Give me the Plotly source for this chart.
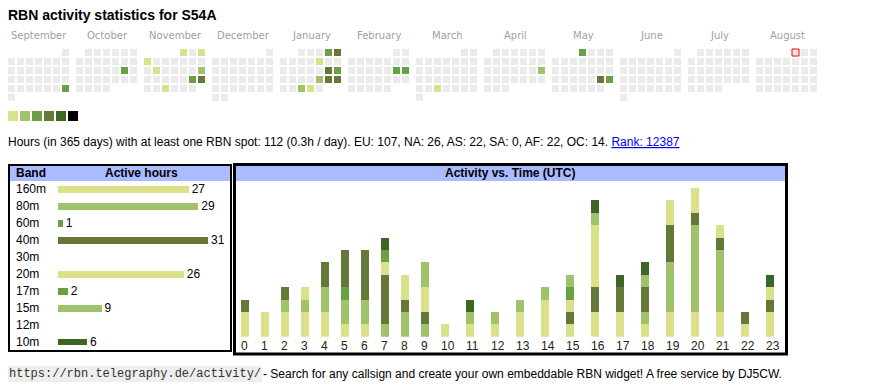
import plotly.graph_objects as go
from datetime import date, timedelta

# The page body keeps the browser's default 8px margin, so the figure is
# 8px smaller than the window and page coordinates start at 8.
PAGE_W, PAGE_H, OFF = 870, 390, 8
W, H = PAGE_W - OFF, PAGE_H - OFF
FONT = "Liberation Sans, Arial, sans-serif"

# ---------------- data ----------------
title_text = "RBN activity statistics for S54A"
month_names = ["September", "October", "November", "December", "January", "February",
               "March", "April", "May", "June", "July", "August"]
period_start = date(2024, 9, 1)
period_end = date(2025, 8, 31)
today = date(2025, 8, 1)

active_days = ["2024-09-29", "2024-10-19", "2024-11-01", "2024-11-03", "2024-11-04",
               "2024-11-12", "2024-11-17", "2024-11-23", "2024-11-24", "2024-11-27",
               "2025-01-04", "2025-01-05", "2025-01-10", "2025-01-18", "2025-01-19",
               "2025-01-24", "2025-01-25", "2025-01-26", "2025-01-29", "2025-01-30",
               "2025-02-15", "2025-02-16", "2025-03-26", "2025-04-20", "2025-05-01",
               "2025-05-24", "2025-05-25"]
active_levels = [3, 3, 1, 1, 1,
                 1, 2, 3, 4, 1,
                 3, 4, 1, 4, 3,
                 2, 4, 4, 2, 1,
                 3, 3, 1, 2, 3,
                 4, 3]

level_colors = ["#ebebeb", "#dbe18b", "#9fc26b", "#68a046", "#65783a", "#3b6626", "#000000"]

bands = ["160m", "80m", "60m", "40m", "30m", "20m", "17m", "15m", "12m", "10m"]
band_hours = [27, 29, 1, 31, 0, 26, 2, 9, 0, 6]
band_colors = ["#dbe18b", "#9fc26b", "#68a046", "#65783a", "#3b6626",
               "#dbe18b", "#68a046", "#9fc26b", "#68a046", "#3b6626"]

hour_labels = [str(h) for h in range(24)]
act_160m = [2, 2, 2, 2, 2, 1, 1, 0, 0, 0, 0, 0, 0, 0, 0, 1, 2, 2, 1, 2, 2, 2, 1, 2]
act_80m = [0, 0, 1, 1, 2, 2, 2, 1, 2, 1, 0, 0, 0, 0, 0, 0, 0, 0, 1, 4, 7, 5, 0, 0]
act_60m = [0, 0, 0, 0, 0, 1, 0, 0, 0, 0, 0, 0, 0, 0, 0, 0, 0, 0, 0, 0, 0, 0, 0, 0]
act_40m = [1, 0, 1, 0, 2, 3, 4, 4, 1, 1, 0, 0, 0, 0, 0, 1, 2, 2, 2, 3, 1, 1, 1, 1]
act_30m = [0] * 24
act_20m = [0, 0, 0, 1, 0, 0, 0, 1, 2, 2, 1, 1, 1, 2, 3, 1, 5, 0, 0, 2, 2, 1, 0, 1]
act_17m = [0, 0, 0, 0, 0, 0, 0, 1, 0, 0, 0, 0, 0, 0, 0, 1, 0, 0, 0, 0, 0, 0, 0, 0]
act_15m = [0, 0, 0, 0, 0, 0, 0, 0, 0, 2, 0, 1, 1, 1, 1, 1, 1, 0, 1, 0, 0, 0, 0, 0]
act_12m = [0] * 24
act_10m = [0, 0, 0, 0, 0, 0, 0, 1, 0, 0, 0, 1, 0, 0, 0, 0, 1, 1, 1, 0, 0, 0, 0, 1]
band_activity = [act_160m, act_80m, act_60m, act_40m, act_30m,
                 act_20m, act_17m, act_15m, act_12m, act_10m]

info_text = ("Hours (in 365 days) with at least one RBN spot: 112 (0.3h / day). "
             "EU: 107, NA: 26, AS: 22, SA: 0, AF: 22, OC: 14. ")
rank_text = "Rank: 12387"
footer_url = "https://rbn.telegraphy.de/activity/"
footer_text = "- Search for any callsign and create your own embeddable RBN widget! A free service by DJ5CW."

# ---------------- layout constants (page pixels) ----------------
CAL_X0, CAL_Y0, CELL, MONTH_W, CELL_SIZE = 11.5, 52.5, 9, 68, 7
ACT_X0, BAR_W = 241, 8


def px(x):
    return (x - OFF) / W


def py(y):
    return 1 - (y - OFF) / H


fig = go.Figure()

# calendar cells
level_by_day = {date.fromisoformat(d): l for d, l in zip(active_days, active_levels)}
cx, cy, cc = [], [], []
d = period_start
while d <= period_end:
    m = (d.year - period_start.year) * 12 + d.month - period_start.month
    first = d.replace(day=1)
    row = (d.day - 1 + first.weekday()) // 7
    col = d.weekday()
    cx.append(CAL_X0 + MONTH_W * m + CELL * col)
    cy.append(CAL_Y0 + CELL * row)
    cc.append(level_colors[level_by_day.get(d, 0)])
    d += timedelta(days=1)

fig.add_trace(go.Scatter(x=cx, y=cy, mode="markers", xaxis="x", yaxis="y",
                         marker=dict(symbol="square", size=CELL_SIZE, color=cc, line=dict(width=0)),
                         hoverinfo="skip"))
# today marker
tm = (today.year - period_start.year) * 12 + today.month - period_start.month
trow = (today.day - 1 + today.replace(day=1).weekday()) // 7
fig.add_trace(go.Scatter(x=[CAL_X0 + MONTH_W * tm + CELL * today.weekday()],
                         y=[CAL_Y0 + CELL * trow], mode="markers", xaxis="x", yaxis="y",
                         marker=dict(symbol="square", size=CELL_SIZE,
                                     color=level_colors[0], line=dict(width=1, color="#ff0000")),
                         hoverinfo="skip"))
# colour legend squares
fig.add_trace(go.Scatter(x=[13 + 12 * i for i in range(len(level_colors) - 1)],
                         y=[116] * (len(level_colors) - 1), mode="markers", xaxis="x", yaxis="y",
                         marker=dict(symbol="square", size=10, color=level_colors[1:], line=dict(width=0)),
                         hoverinfo="skip"))

# band bars
fig.add_trace(go.Bar(y=bands, x=band_hours, orientation="h", xaxis="x2", yaxis="y2",
                     width=0.41, marker=dict(color=band_colors, line=dict(width=0)),
                     text=[str(v) if v else "" for v in band_hours], textposition="outside",
                     cliponaxis=False, constraintext="none",
                     textfont=dict(family=FONT, size=12, color="#000000"), hoverinfo="skip"))

# activity vs time bars
cell_w = [20 if len(l) == 1 else 25 for l in hour_labels]
bar_left = [ACT_X0 + sum(cell_w[:i]) for i in range(len(hour_labels))]
bar_center = [b + BAR_W / 2 for b in bar_left]
for series, col in zip(band_activity, band_colors):
    fig.add_trace(go.Bar(x=bar_center, y=series, width=BAR_W, xaxis="x", yaxis="y3",
                         marker=dict(color=col, line=dict(width=0)), hoverinfo="skip"))

ann = []
ann.append(dict(x=8, y=15, xref="x", yref="y", text="<b>" + title_text + "</b>",
                xanchor="left", yanchor="middle", showarrow=False, borderpad=0, borderwidth=0,
                font=dict(family=FONT, size=14, color="#000000")))
for i, mn in enumerate(month_names):
    ann.append(dict(x=8 + MONTH_W * i + 31, y=35.5, xref="x", yref="y", text=mn,
                    xanchor="center", yanchor="middle", showarrow=False,
                    font=dict(family="DejaVu Sans, sans-serif", size=10, color="#a0a0a0")))
ann.append(dict(x=8, y=142, xref="x", yref="y",
                text=info_text + '<span style="color:#0000ee"><u>' + rank_text + "</u></span>",
                xanchor="left", yanchor="middle", showarrow=False, borderpad=0, borderwidth=0,
                font=dict(family=FONT, size=12, color="#000000")))
# band table texts
ann.append(dict(x=16, y=173, xref="x", yref="y", text="<b>Band</b>", xanchor="left",
                yanchor="middle", showarrow=False, borderpad=0, borderwidth=0,
                font=dict(family=FONT, size=12, color="#000000")))
ann.append(dict(x=141.5, y=173, xref="x", yref="y", text="<b>Active hours</b>", xanchor="center",
                yanchor="middle", showarrow=False, font=dict(family=FONT, size=12, color="#000000")))
for b in bands:
    ann.append(dict(x=16, y=b, xref="x", yref="y2", text=b, xanchor="left", yanchor="middle",
                    showarrow=False, borderpad=0, borderwidth=0,
                    font=dict(family=FONT, size=12, color="#000000")))
ann.append(dict(x=510, y=173, xref="x", yref="y", text="<b>Activity vs. Time (UTC)</b>",
                xanchor="center", yanchor="middle", showarrow=False,
                font=dict(family=FONT, size=12, color="#000000")))
for l, bl in zip(hour_labels, bar_left):
    ann.append(dict(x=bl, y=346, xref="x", yref="y", text=l, xanchor="left", yanchor="middle",
                    showarrow=False, borderpad=0, borderwidth=0,
                    font=dict(family=FONT, size=12, color="#222222")))
# footer
ann.append(dict(x=8, y=374, xref="x", yref="y", text=footer_url, xanchor="left", yanchor="middle",
                showarrow=False, bgcolor="#eeeeee", borderpad=1, borderwidth=0,
                font=dict(family="Liberation Mono, monospace", size=12, color="#333333")))
ann.append(dict(x=263, y=374, xref="x", yref="y", text=footer_text, xanchor="left", yanchor="middle",
                showarrow=False, borderpad=0, borderwidth=0,
                font=dict(family=FONT, size=12, color="#000000")))

shapes = [
    dict(type="rect", xref="x", yref="y", x0=10, x1=230, y0=166, y1=181,
         fillcolor="#aabbff", line=dict(width=0), layer="below"),
    dict(type="rect", xref="x", yref="y", x0=236, x1=785, y0=166, y1=181,
         fillcolor="#aabbff", line=dict(width=0), layer="below"),
    dict(type="rect", xref="x", yref="y", x0=9, x1=231, y0=165, y1=351,
         line=dict(width=2, color="#000000")),
    dict(type="rect", xref="x", yref="y", x0=234.5, x1=786.5, y0=164.5, y1=354,
         line=dict(width=3, color="#000000")),
]

act_max = max(sum(v) for v in zip(*band_activity))
fig.update_layout(
    width=W, height=H, autosize=False, margin=dict(l=0, r=0, t=0, b=0, pad=0),
    paper_bgcolor="#ffffff", plot_bgcolor="rgba(0,0,0,0)",
    showlegend=False, hovermode=False, barmode="stack",
    xaxis=dict(domain=[0, 1], range=[OFF, PAGE_W], visible=False, fixedrange=True),
    yaxis=dict(domain=[0, 1], range=[PAGE_H, OFF], visible=False, fixedrange=True, anchor="x"),
    xaxis2=dict(domain=[px(58), px(208)], range=[0, max(band_hours)], visible=False, anchor="y2"),
    yaxis2=dict(domain=[py(350.5), py(180.8)], type="category",
                categoryorder="array", categoryarray=bands, autorange="reversed",
                visible=False, anchor="x2"),
    yaxis3=dict(domain=[py(336.7), py(188)], range=[0, act_max], visible=False, anchor="x"),
    annotations=ann, shapes=shapes,
)

fig.write_html("out.html")
